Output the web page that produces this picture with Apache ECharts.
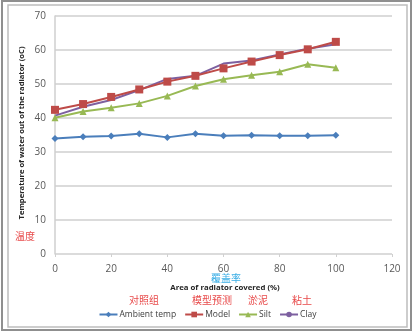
<!DOCTYPE html>
<html>
<head>
<meta charset="utf-8">
<script src="https://cdn.jsdelivr.net/npm/echarts@6/dist/echarts.min.js"></script>
<style>html,body{margin:0;padding:0;background:#fff}#c{width:415px;height:334px}</style>
</head>
<body>
<div id="c"></div>
<script>
var areaCovered = [0, 10, 20, 30, 40, 50, 60, 70, 80, 90, 100];
var ambientTemp = [34.0, 34.5, 34.7, 35.4, 34.3, 35.4, 34.8, 34.9, 34.8, 34.8, 34.9];
var model = [42.4, 44.1, 46.2, 48.4, 50.7, 52.4, 54.6, 56.6, 58.5, 60.2, 62.4];
var silt = [40.1, 41.9, 43.0, 44.3, 46.5, 49.4, 51.4, 52.6, 53.6, 55.8, 54.8];
var clay = [40.7, 43.3, 45.3, 48.2, 51.5, 52.4, 56.0, 56.9, 58.7, 60.4, 61.7];
var seriesNames = ['Ambient temp', 'Model', 'Silt', 'Clay'];
var seriesLabelsCN = ['对照组', '模型预测', '淤泥', '粘土'];
var yTitle = 'Temperature of water out of the radiator (oC)';
var yTitleCN = '温度';
var xTitle = 'Area of radiator covered (%)';
var xTitleCN = '覆盖率';

function pairs(v){ return areaCovered.map(function(x,i){ return [x, v[i]]; }); }

var chart = echarts.init(document.getElementById('c'), null, {renderer:'canvas'});
var font = 'Open Sans, Liberation Sans, sans-serif';
var cnFont = 'Noto Sans CJK SC, sans-serif';
var colors = ['#4a7ebb', '#be4b48', '#98b954', '#7d60a0'];
var symbols = ['diamond', 'rect', 'triangle', 'none'];
var sizes = [7, 8, 7, 0];
var dataSets = [ambientTemp, model, silt, clay];

chart.setOption({
  animation: false,
  backgroundColor: '#fff',
  grid: {left: 55, right: 23, top: 16, bottom: 80, containLabel: false},
  xAxis: {
    type: 'value', min: 0, max: 120, interval: 20,
    axisLine: {show: false},
    axisTick: {show: true, length: 3, lineStyle: {color: '#d0d0d0'}},
    splitLine: {show: false},
    axisLabel: {color: '#595959', fontSize: 10, fontFamily: font, margin: 10}
  },
  yAxis: {
    type: 'value', min: 0, max: 70, interval: 10,
    axisLine: {show: true, lineStyle: {color: '#cfcfcf', width: 1.5}},
    axisTick: {show: false},
    splitLine: {show: true, lineStyle: {color: '#cfcfcf', width: 1.5}},
    axisLabel: {color: '#595959', fontSize: 10, fontFamily: font, margin: 9}
  },
  legend: {
    bottom: 10, left: 'center',
    itemWidth: 18, itemHeight: 7, itemGap: 8,
    textStyle: {fontSize: 8.5, color: '#404040', fontFamily: font, padding: [0,0,0,-3]},
    data: seriesNames
  },
  series: seriesNames.map(function(n, i){
    return {
      name: n, type: 'line', data: pairs(dataSets[i]),
      symbol: symbols[i], symbolSize: sizes[i], showSymbol: symbols[i] !== 'none',
      lineStyle: {color: colors[i], width: 2},
      itemStyle: {color: colors[i]},
      z: 2 + (i === 1 ? 1 : 0)
    };
  }),
  graphic: [
    {type: 'rect', shape: {x: 2, y: 1, width: 409, height: 329}, style: {fill: 'none', stroke: '#8f8f8f', lineWidth: 2}, silent: true},
    {type: 'rect', shape: {x: 8, y: 5, width: 399, height: 322}, style: {fill: 'none', stroke: '#bdbdbd', lineWidth: 1.5}, silent: true},
    {type: 'text', x: 22, y: 133, rotation: Math.PI/2,
      style: {text: yTitle, fontSize: 7.6, fontWeight: 'bold', fill: '#262626', fontFamily: font, align: 'center', verticalAlign: 'middle'}},
    {type: 'text', x: 25, y: 236, style: {text: yTitleCN, fontSize: 10, fill: '#e84a4a', fontFamily: cnFont, align: 'center', verticalAlign: 'middle'}},
    {type: 'text', x: 226, y: 278, style: {text: xTitleCN, fontSize: 10, fill: '#3aaee6', fontFamily: cnFont, align: 'center', verticalAlign: 'middle'}},
    {type: 'text', x: 225, y: 288, style: {text: xTitle, fontSize: 7.8, fontWeight: 'bold', fill: '#262626', fontFamily: font, align: 'center', verticalAlign: 'middle'}},
    {type: 'text', x: 144, y: 300, style: {text: seriesLabelsCN[0], fontSize: 10, fill: '#e84a4a', fontFamily: cnFont, align: 'center', verticalAlign: 'middle'}},
    {type: 'text', x: 212, y: 300, style: {text: seriesLabelsCN[1], fontSize: 10, fill: '#e84a4a', fontFamily: cnFont, align: 'center', verticalAlign: 'middle'}},
    {type: 'text', x: 258, y: 300, style: {text: seriesLabelsCN[2], fontSize: 10, fill: '#e84a4a', fontFamily: cnFont, align: 'center', verticalAlign: 'middle'}},
    {type: 'text', x: 302, y: 300, style: {text: seriesLabelsCN[3], fontSize: 10, fill: '#e84a4a', fontFamily: cnFont, align: 'center', verticalAlign: 'middle'}}
  ]
});
</script>
</body>
</html>
